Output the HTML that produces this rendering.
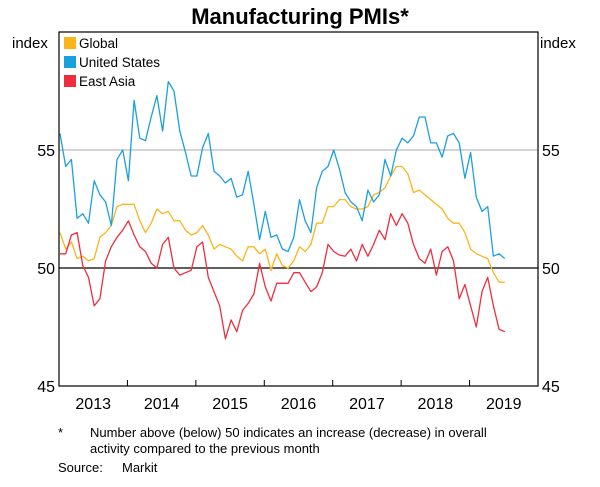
<!DOCTYPE html>
<html><head><meta charset="utf-8"><style>
body{margin:0;background:#fff;}
svg text{font-family:"Liberation Sans",Arial,sans-serif;fill:#000;}
</style></head><body>
<svg id="chart" width="600" height="482" xmlns="http://www.w3.org/2000/svg">
<text x="300" y="24" text-anchor="middle" font-size="22" font-weight="bold">Manufacturing PMIs*</text>
<text x="12" y="48" font-size="15">index</text>
<text x="540" y="48" font-size="15">index</text>
<g id="grid"></g>
<g id="series"></g>
<rect x="59" y="32" width="479" height="354" fill="none" stroke="#000" stroke-width="1.2"/>
<g id="axes"></g>
<g>
<rect x="64" y="37" width="12" height="12" fill="#FBB41B"/>
<text x="79" y="48" font-size="13.5">Global</text>
<rect x="64" y="56" width="12" height="12" fill="#1BA0DE"/>
<text x="79" y="67" font-size="13.5">United States</text>
<rect x="64" y="75" width="12" height="12" fill="#EE2E3E"/>
<text x="79" y="86" font-size="13.5">East Asia</text>
</g>
<text x="58" y="437" font-size="13">*</text>
<text x="90" y="437" font-size="13">Number above (below) 50 indicates an increase (decrease) in overall</text>
<text x="90" y="453" font-size="13">activity compared to the previous month</text>
<text x="58" y="472" font-size="13">Source:</text>
<text x="122" y="472" font-size="13">Markit</text>
</svg>
<script>
const years=["2013","2014","2015","2016","2017","2018","2019"];
const yTicks=[45,50,55];
const usVals=[55.7,54.3,54.6,52.1,52.3,51.9,53.7,53.1,52.8,51.8,54.6,55.0,53.7,57.1,55.5,55.4,56.4,57.3,55.8,57.9,57.5,55.8,54.9,53.9,53.9,55.1,55.7,54.1,53.9,53.6,53.8,53.0,53.1,54.1,52.7,51.2,52.4,51.3,51.4,50.8,50.7,51.3,52.9,
52.0,51.5,53.4,54.1,54.3,55.0,54.2,53.2,52.8,52.6,52.0,53.3,52.8,53.1,54.6,53.9,55.0,55.5,55.3,55.6,56.4,56.4,55.3,55.3,54.7,55.6,55.7,55.3,53.8,54.9,53.0,52.4,52.6,50.5,50.6,50.4];
const globalVals=[51.5,50.8,51.1,50.4,50.5,50.3,50.4,51.3,51.5,51.8,52.6,52.7,52.7,52.7,52.0,51.5,51.9,52.5,52.3,52.4,52.0,52.0,51.6,51.4,51.5,51.8,51.4,50.8,51.0,50.9,50.8,50.5,50.3,50.9,50.9,50.6,50.8,49.9,50.6,50.1,50.0,50.3,50.9,
50.7,51.0,51.9,51.9,52.6,52.6,52.9,52.9,52.6,52.5,52.5,52.6,53.1,53.2,53.4,53.9,54.3,54.3,54.0,53.2,53.3,53.1,52.9,52.7,52.5,52.1,51.9,51.9,51.5,50.8,50.6,50.5,50.4,49.8,49.4,49.4];
const eastAsiaVals=[50.6,50.6,51.4,51.5,50.1,49.6,48.4,48.7,50.3,50.9,51.3,51.6,52.0,51.4,50.9,50.7,50.2,50.0,51.0,51.3,50.0,49.7,49.8,49.9,50.9,51.1,49.6,49.0,48.4,47.0,47.8,47.3,48.2,48.5,48.9,50.2,49.2,48.6,49.35,49.35,49.35,49.8,49.8,
49.4,49.0,49.2,49.8,51.0,50.7,50.55,50.5,50.8,50.3,51.0,50.5,51.0,51.6,51.2,52.3,51.8,52.3,51.9,51.0,50.4,50.2,50.8,49.7,50.7,50.9,50.3,48.7,49.3,48.4,47.5,49.0,49.6,48.4,47.4,47.3];
const NS="http://www.w3.org/2000/svg";
const X0=59,X1=538,Y0=32,Y1=386,startYear=2013;
const yearW=(X1-X0)/7;
function xMonth(i){return X0+1+i*yearW/12;}
function yVal(v){return Y1-(v-45)/15*(Y1-Y0)*(15/15);}
function yScale(v){return Y1-(v-45)*(Y1-Y0)/15;}
const grid=document.getElementById('grid'),axes=document.getElementById('axes'),ser=document.getElementById('series');
function mk(t,attrs,parent){const e=document.createElementNS(NS,t);for(const k in attrs)e.setAttribute(k,attrs[k]);parent.appendChild(e);return e;}
// gridlines
let g55=mk('line',{x1:X0,x2:X1,y1:yScale(55),y2:yScale(55),stroke:'#aaa','stroke-width':1},grid);


let g50=mk('line',{x1:X0,x2:X1,y1:yScale(50),y2:yScale(50),stroke:'#000','stroke-width':1.2},grid);


yTicks.forEach(v=>{
 let t=mk('text',{x:X0-4,y:yScale(v)+6,'text-anchor':'end','font-size':16},axes);t.textContent=v;
 
 
 let t2=mk('text',{x:X1+4,y:yScale(v)+6,'font-size':16},axes);t2.textContent=v;
 
 
});
years.forEach((y,i)=>{
 let t=mk('text',{x:X0+(i+0.5)*yearW,y:Y1+23,'text-anchor':'middle','font-size':16},axes);t.textContent=y;
 
 
 if(i>0){let l=mk('line',{x1:X0+i*yearW,x2:X0+i*yearW,y1:Y1,y2:Y1-6,stroke:'#000','stroke-width':1},axes);
 
 }
});
function line(vals,color,name){
 const d=vals.map((v,i)=>(i?'L':'M')+xMonth(i).toFixed(1)+','+yScale(v).toFixed(1)).join('');
 const p=mk('path',{d:d,fill:'none',stroke:color,'stroke-width':1.3,'stroke-linejoin':'round'},ser);
 
 
}
line(globalVals,'#FBB41B','line-global');
line(usVals,'#1BA0DE','line-united-states');
line(eastAsiaVals,'#EE2E3E','line-east-asia');
</script>
</body></html>
